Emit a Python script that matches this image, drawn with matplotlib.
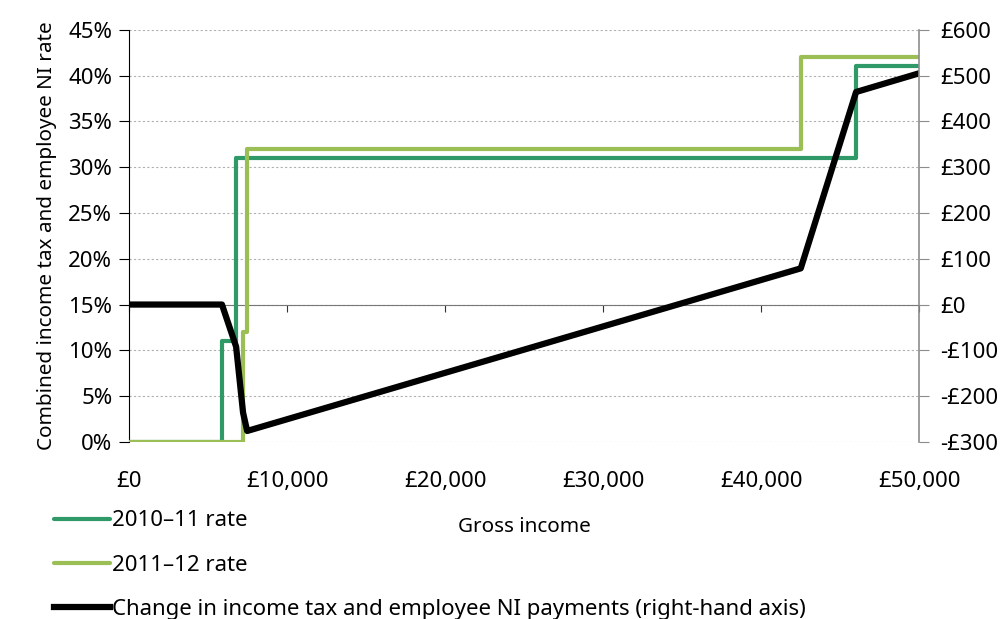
import matplotlib.pyplot as plt

plt.rcParams['font.family'] = ['Noto Sans', 'DejaVu Sans']

# step points (income where the rate starts, rate in %)
inc_2010 = [0, 5880, 6775, 46000, 50000]
rate_2010 = [0, 11, 31, 41, 41]
inc_2011 = [0, 7215, 7475, 42500, 50000]
rate_2011 = [0, 12, 32, 42, 42]

# change in income tax + employee NI payments (£)
inc_change = [0, 5880, 6775, 7215, 7475, 42500, 46000, 50000]
change = [0, 0, -92, -236, -276, 79, 464, 505]

x_ticks = [0, 10000, 20000, 30000, 40000, 50000]
x_labels = ['£0', '£10,000', '£20,000', '£30,000', '£40,000', '£50,000']
left_ticks = [0, 5, 10, 15, 20, 25, 30, 35, 40, 45]
right_ticks = [-300, -200, -100, 0, 100, 200, 300, 400, 500, 600]

dark_green = '#2f9a68'
light_green = '#9bbf55'
fs_tick = 16
fs_lab = 14.9

fig = plt.figure(figsize=(10.08, 6.19), dpi=100)
ax = fig.add_axes([0.128, 0.286, 0.784, 0.666])
ax2 = ax.twinx()

ax.plot(inc_2010, rate_2010, drawstyle='steps-post', color=dark_green, lw=3,
        label='2010\u201311 rate', zorder=3, solid_capstyle='round')
ax.plot(inc_2011, rate_2011, drawstyle='steps-post', color=light_green, lw=3,
        label='2011\u201312 rate', zorder=3, solid_capstyle='round')
ax2.plot(inc_change, change, color='black', lw=4.5,
         label='Change in income tax and employee NI payments (right-hand axis)')

ax.set_xlim(0, 50000)
ax.set_ylim(0, 45)
ax2.set_ylim(-300, 600)

# left axis: x axis line sits at the £0 level (15%)
ax.spines['bottom'].set_position(('data', 15))
ax.spines['bottom'].set_color('#777777')
ax.spines['bottom'].set_zorder(2)
ax.spines['top'].set_visible(False)
ax.spines['right'].set_visible(False)
ax.spines['left'].set_color('black')
ax.spines['left'].set_linewidth(0.8)
ax.set_xticks(x_ticks)
ax.tick_params(axis='x', direction='out', length=5, color='#333333', labelbottom=False)
ax.set_yticks(left_ticks)
ax.set_yticklabels([f'{t}%' for t in left_ticks])
ax.tick_params(axis='y', direction='out', length=7, width=0.8, labelsize=fs_tick, pad=5)
ax.grid(axis='y', linestyle=(0, (2, 2)), color='#b0b0b0', lw=0.8)
ax.set_ylabel('Combined income tax and employee NI rate', fontsize=fs_lab, labelpad=8)

# right axis carries the bottom tick labels
ax2.xaxis.set_visible(True)
ax2.set_xticks(x_ticks)
ax2.set_xticklabels(x_labels)
ax2.tick_params(axis='x', length=0, labelsize=fs_tick, pad=21)
for s in ['top', 'left', 'bottom']:
    ax2.spines[s].set_visible(False)
ax2.spines['right'].set_color('#8c8c8c')
ax2.spines['right'].set_linewidth(1.2)
ax2.set_yticks(right_ticks)
ax2.set_yticklabels([f'£{t}' if t >= 0 else f'-£{-t}' for t in right_ticks])
ax2.tick_params(axis='y', direction='out', length=7, color='#8c8c8c', labelsize=fs_tick, pad=8)
ax2.set_xlabel('Gross income', fontsize=fs_lab, labelpad=18)

h1, l1 = ax.get_legend_handles_labels()
h2, l2 = ax2.get_legend_handles_labels()
fig.legend(h1 + h2, l1 + l2, loc='upper left', bbox_to_anchor=(0.045, 0.19),
           frameon=False, fontsize=fs_tick, handlelength=2.5, handletextpad=0.1,
           labelspacing=1.05, borderaxespad=0)

fig.savefig('out.png', dpi=100)
